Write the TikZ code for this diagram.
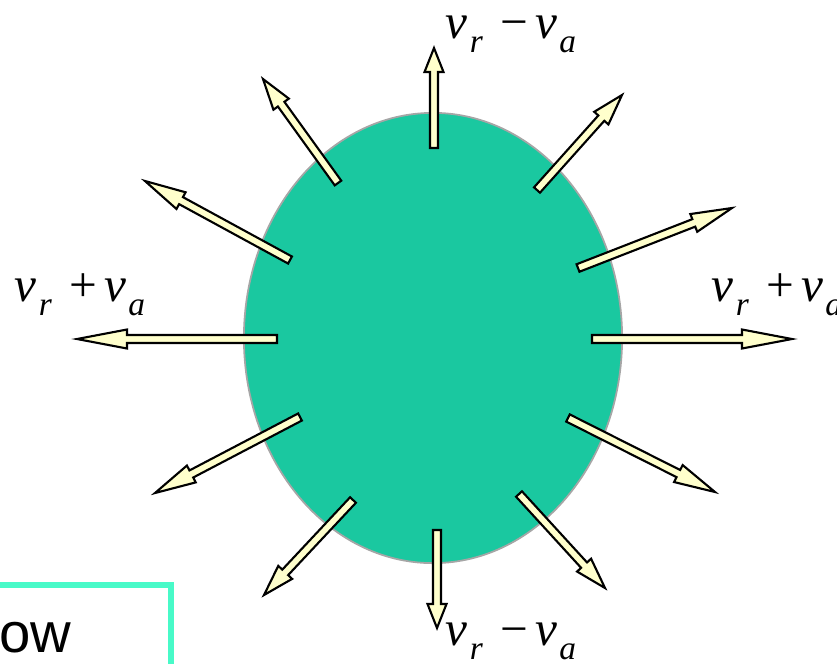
\documentclass[tikz,border=0pt]{standalone}
\usepackage{fontspec}
\setmainfont{Liberation Serif}
\newfontfamily\notefont{Liberation Sans}
\usetikzlibrary{calc,positioning,shapes.geometric}
\definecolor{blobgreen}{RGB}{26,200,160}
\definecolor{arrowcream}{RGB}{255,255,204}
\definecolor{boxcyan}{RGB}{72,250,200}

% velocity label: italic v with a lowered subscript
\newcommand{\vel}[1]{\textit{v}\kern0.6pt\raisebox{-4pt}{\fontsize{9.5}{10}\selectfont\textit{#1}}}

% block arrow from tail #2 to tip #3, head length #1
\newcommand{\blockarrow}[3][3mm]{%
  \filldraw[arrowbody]
    ($(#2)!0.4mm!90:(#3)$) --
    ($(#3)!#1!(#2)!0.4mm!90:(#3)$) --
    ($(#3)!#1!(#2)!0.95mm!90:(#3)$) --
    (#3) --
    ($(#3)!#1!(#2)!0.95mm!-90:(#3)$) --
    ($(#3)!#1!(#2)!0.4mm!-90:(#3)$) --
    ($(#2)!0.4mm!-90:(#3)$) -- cycle;}

\begin{document}
\begin{tikzpicture}[
  x=0.01cm, y=-0.01cm,
  blob/.style={ellipse, draw=gray!70, line width=0.5pt, fill=blobgreen,
               minimum width=3.78cm, minimum height=4.5cm},
  arrowbody/.style={draw=black, fill=arrowcream, line width=0.6pt, line join=miter},
  vlabel/.style={inner sep=0pt, font=\fontsize{14}{16}\selectfont},
  notebox/.style={draw=boxcyan, line width=1.7pt}
]
\useasboundingbox (0,0) rectangle (837,663);

% Body
\node[blob] (blob) at (433,338) {};

% Tails and tips
\coordinate (tN) at (434,148);   \coordinate (hN) at (434,48);
\coordinate (tS) at (437,530);   \coordinate (hS) at (437,628);
\coordinate (tW) at (277,339);   \coordinate (hW) at (77,339);
\coordinate (tE) at (592,339);   \coordinate (hE) at (792,339);
\coordinate (tNWa) at (338,183); \coordinate (hNWa) at (263,79);
\coordinate (tNWb) at (290,260); \coordinate (hNWb) at (145,181);
\coordinate (tNEa) at (537,190); \coordinate (hNEa) at (622,95);
\coordinate (tNEb) at (578,268); \coordinate (hNEb) at (732,208);
\coordinate (tSWb) at (300,417); \coordinate (hSWb) at (155,493);
\coordinate (tSWa) at (353,500); \coordinate (hSWa) at (264,595);
\coordinate (tSEb) at (568,418); \coordinate (hSEb) at (715,492);
\coordinate (tSEa) at (519,494); \coordinate (hSEa) at (605,588);

% Arrows
\blockarrow[2.4mm]{tN}{hN}
\blockarrow[2.4mm]{tS}{hS}
\blockarrow[5mm]{tW}{hW}
\blockarrow[5mm]{tE}{hE}
\blockarrow[3.1mm]{tNWa}{hNWa}
\blockarrow[4.1mm]{tNWb}{hNWb}
\blockarrow[3.1mm]{tNEa}{hNEa}
\blockarrow[4.1mm]{tNEb}{hNEb}
\blockarrow[4.1mm]{tSWb}{hSWb}
\blockarrow[3.1mm]{tSWa}{hSWa}
\blockarrow[4.1mm]{tSEb}{hSEb}
\blockarrow[3.1mm]{tSEa}{hSEa}

% Labels
\node[vlabel] (lN) at (511,34) {\vel{r}\hspace{5pt}−\hspace{2pt}\vel{a}};
\node[vlabel] (lS) at (511,641) {\vel{r}\hspace{5pt}−\hspace{2pt}\vel{a}};
\node[vlabel] (lW) at (80,295) {\vel{r}\hspace{5pt}+\hspace{2pt}\vel{a}};
\node[vlabel] (lE) at (777,295) {\vel{r}\hspace{5pt}+\hspace{2pt}\vel{a}};

% Note box
\draw[notebox] (-30,585) rectangle (171,720);
\node[anchor=base east, inner sep=0pt, font=\notefont\fontsize{16}{18}\selectfont] (note) at (72,652) {ow};

\end{tikzpicture}
\end{document}
